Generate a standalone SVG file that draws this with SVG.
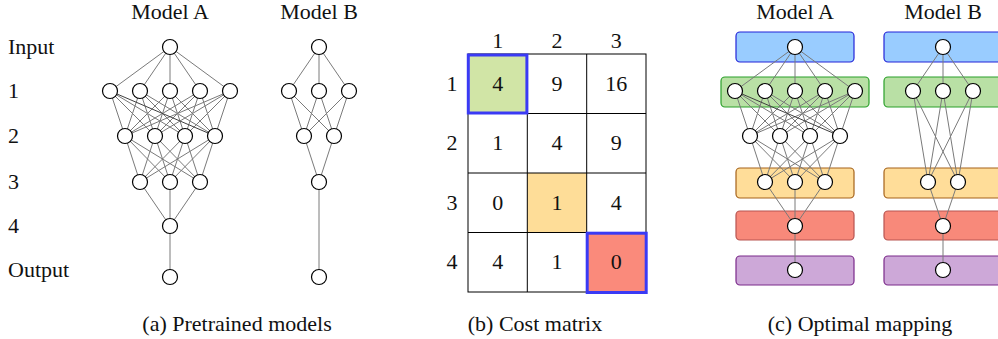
<svg xmlns="http://www.w3.org/2000/svg" xmlns:xlink="http://www.w3.org/1999/xlink" width="998" height="339" viewBox="0 0 998 339" font-family="'Liberation Serif', 'Times New Roman', 'DejaVu Serif', serif">
<style>
text{font-family:'Liberation Serif','Times New Roman','DejaVu Serif',serif;font-size:22px;fill:#111}
.c{text-anchor:middle}
.n{fill:#fff;stroke:#000;stroke-width:1.2}
.e{fill:none;stroke:#7a7a7a;stroke-width:1}
.ed{fill:none;stroke:#404040;stroke-width:1}
.cell{fill:none;stroke:#000;stroke-width:1}
.sel{fill:none;stroke:#3a3af5;stroke-width:3}
.bx{stroke-width:1.2}
</style>
<defs>
<path id="meshA" d="M170 47L110 91M170 47L140 91M170 47L170 91M170 47L200 91M170 47L230 91
M110 91L125 136M110 91L155 136M110 91L185 136
M140 91L125 136M140 91L155 136M140 91L185 136M140 91L215 136
M170 91L125 136M170 91L155 136M170 91L185 136M170 91L215 136
M200 91L125 136M200 91L155 136M200 91L185 136M200 91L215 136
M230 91L125 136M230 91L155 136M230 91L185 136M230 91L215 136
M125 136L140 182M125 136L170 182M125 136L200 182
M155 136L140 182M155 136L170 182M155 136L200 182
M185 136L140 182M185 136L170 182M185 136L200 182
M215 136L140 182M215 136L170 182M215 136L200 182"/>
<path id="meshAd" d="M110 91L215 136"/>
</defs>

<g id="connectors">
<use xlink:href="#meshA" class="e"/>
<use xlink:href="#meshAd" class="ed"/>
<path class="e" d="M140 182L170 226M170 182L170 226M200 182L170 226M170 226L170 277"/>
<path class="e" d="M319 47L289 91M319 47L319 91M319 47L349 91M289 91L304 136M289 91L334 136M319 91L304 136M319 91L334 136M349 91L304 136M349 91L334 136M304 136L319 182M334 136L319 182M319 182L319 277"/>
</g>

<g id="layerBoxesA">
<rect x="736" y="32" width="118" height="30" rx="4" fill="#99ccff" stroke="#2323d8" class="bx"/>
<rect x="721" y="77" width="148" height="30" rx="4" fill="#b9e0a5" stroke="#2aa02a" class="bx"/>
<rect x="736" y="168" width="118" height="30" rx="4" fill="#ffdd99" stroke="#a5621a" class="bx"/>
<rect x="736" y="211" width="118" height="29" rx="4" fill="#f8897a" stroke="#b85450" class="bx"/>
<rect x="736" y="256" width="118" height="29" rx="4" fill="#cda8d8" stroke="#7b2a8a" class="bx"/>
</g>
<g id="layerBoxesB">
<rect x="884" y="32" width="130" height="30" rx="4" fill="#99ccff" stroke="#2323d8" class="bx"/>
<rect x="884" y="77" width="148" height="30" rx="4" fill="#b9e0a5" stroke="#2aa02a" class="bx"/>
<rect x="884" y="168" width="130" height="30" rx="4" fill="#ffdd99" stroke="#a5621a" class="bx"/>
<rect x="884" y="211" width="130" height="29" rx="4" fill="#f8897a" stroke="#b85450" class="bx"/>
<rect x="884" y="256" width="130" height="29" rx="4" fill="#cda8d8" stroke="#7b2a8a" class="bx"/>
</g>
<g id="connectorsC">
<use xlink:href="#meshA" class="e" transform="translate(625,0)"/>
<use xlink:href="#meshAd" class="ed" transform="translate(625,0)"/>
<path class="e" d="M765 182L795 226M795 182L795 226M825 182L795 226M795 226L795 270"/>
<path class="e" d="M943 47L913 91M943 47L943 91M943 47L973 91M913 91L928 182M913 91L958 182M943 91L928 182M943 91L958 182M973 91L928 182M973 91L958 182M928 182L943 226M958 182L943 226M943 226L943 270"/>
</g>

<g id="titlesA">
<text class="c" x="170" y="19">Model A</text>
<text class="c" x="319" y="19">Model B</text>
</g>
<g id="rowLabels">
<text x="8" y="54">Input</text>
<text x="8" y="98">1</text>
<text x="8" y="143">2</text>
<text x="8" y="189">3</text>
<text x="8" y="233">4</text>
<text x="8" y="277">Output</text>
</g>
<g id="modelA">
<circle class="n" cx="170" cy="47" r="7.5"/>
<circle class="n" cx="110" cy="91" r="7.5"/><circle class="n" cx="140" cy="91" r="7.5"/><circle class="n" cx="170" cy="91" r="7.5"/><circle class="n" cx="200" cy="91" r="7.5"/><circle class="n" cx="230" cy="91" r="7.5"/>
<circle class="n" cx="125" cy="136" r="7.5"/><circle class="n" cx="155" cy="136" r="7.5"/><circle class="n" cx="185" cy="136" r="7.5"/><circle class="n" cx="215" cy="136" r="7.5"/>
<circle class="n" cx="140" cy="182" r="7.5"/><circle class="n" cx="170" cy="182" r="7.5"/><circle class="n" cx="200" cy="182" r="7.5"/>
<circle class="n" cx="170" cy="226" r="7.5"/>
<circle class="n" cx="170" cy="277" r="7.5"/>
</g>
<g id="modelB">
<circle class="n" cx="319" cy="47" r="7.5"/>
<circle class="n" cx="289" cy="91" r="7.5"/><circle class="n" cx="319" cy="91" r="7.5"/><circle class="n" cx="349" cy="91" r="7.5"/>
<circle class="n" cx="304" cy="136" r="7.5"/><circle class="n" cx="334" cy="136" r="7.5"/>
<circle class="n" cx="319" cy="182" r="7.5"/>
<circle class="n" cx="319" cy="277" r="7.5"/>
</g>
<text class="c" x="237" y="331">(a) Pretrained models</text>

<g id="costMatrix">
<rect x="468" y="54" width="59.3" height="59.5" fill="#d1e5a6"/>
<rect x="527.3" y="173" width="59.4" height="59.5" fill="#fedd98"/>
<rect x="586.7" y="232.5" width="59.3" height="59.5" fill="#fa8a7b"/>
<rect class="cell" x="468" y="54" width="178" height="238"/>
<path class="cell" d="M527.3 54V292M586.7 54V292M468 113.5H646M468 173H646M468 232.5H646"/>
<rect class="sel" x="468.3" y="55" width="58.6" height="58"/>
<rect class="sel" x="587.2" y="233.2" width="59" height="59.3"/>
<text class="c" x="497.7" y="48">1</text>
<text class="c" x="557" y="48">2</text>
<text class="c" x="616.3" y="48">3</text>
<text class="c" x="452" y="91">1</text>
<text class="c" x="452" y="150">2</text>
<text class="c" x="452" y="210">3</text>
<text class="c" x="452" y="269">4</text>
<text class="c" x="497.7" y="91">4</text><text class="c" x="557" y="91">9</text><text class="c" x="616.3" y="91">16</text>
<text class="c" x="497.7" y="150">1</text><text class="c" x="557" y="150">4</text><text class="c" x="616.3" y="150">9</text>
<text class="c" x="497.7" y="210">0</text><text class="c" x="557" y="210">1</text><text class="c" x="616.3" y="210">4</text>
<text class="c" x="497.7" y="269">4</text><text class="c" x="557" y="269">1</text><text class="c" x="616.3" y="269">0</text>
</g>
<text class="c" x="535" y="331">(b) Cost matrix</text>

<g id="titlesC">
<text class="c" x="795" y="19">Model A</text>
<text class="c" x="943" y="19">Model B</text>
</g>
<g id="mappedA">
<circle class="n" cx="795" cy="47" r="7.5"/>
<circle class="n" cx="735" cy="91" r="7.5"/><circle class="n" cx="765" cy="91" r="7.5"/><circle class="n" cx="795" cy="91" r="7.5"/><circle class="n" cx="825" cy="91" r="7.5"/><circle class="n" cx="855" cy="91" r="7.5"/>
<circle class="n" cx="750" cy="136" r="7.5"/><circle class="n" cx="780" cy="136" r="7.5"/><circle class="n" cx="810" cy="136" r="7.5"/><circle class="n" cx="840" cy="136" r="7.5"/>
<circle class="n" cx="765" cy="182" r="7.5"/><circle class="n" cx="795" cy="182" r="7.5"/><circle class="n" cx="825" cy="182" r="7.5"/>
<circle class="n" cx="795" cy="226" r="7.5"/>
<circle class="n" cx="795" cy="270" r="7.5"/>
</g>
<g id="mappedB">
<circle class="n" cx="943" cy="47" r="7.5"/>
<circle class="n" cx="913" cy="91" r="7.5"/><circle class="n" cx="943" cy="91" r="7.5"/><circle class="n" cx="973" cy="91" r="7.5"/>
<circle class="n" cx="928" cy="182" r="7.5"/><circle class="n" cx="958" cy="182" r="7.5"/>
<circle class="n" cx="943" cy="226" r="7.5"/>
<circle class="n" cx="943" cy="270" r="7.5"/>
</g>
<text class="c" x="860" y="331">(c) Optimal mapping</text>
</svg>
